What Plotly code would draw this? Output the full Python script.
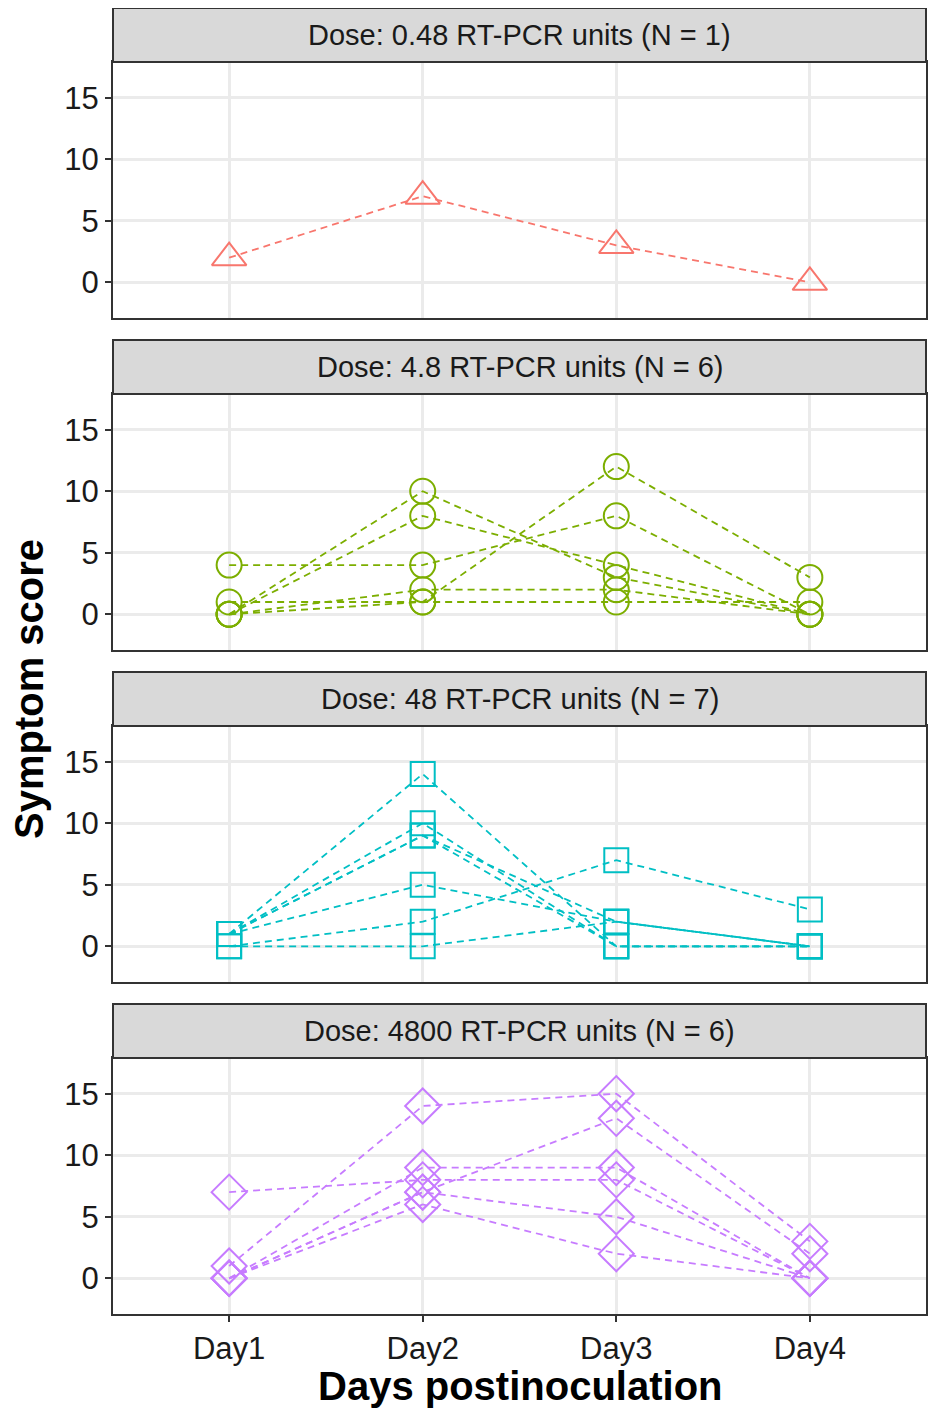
import plotly.graph_objects as go

days = ["Day1", "Day2", "Day3", "Day4"]
day_pos = [1, 2, 3, 4]

panel_titles = [
    "Dose: 0.48 RT-PCR units (N = 1)",
    "Dose: 4.8 RT-PCR units (N = 6)",
    "Dose: 48 RT-PCR units (N = 7)",
    "Dose: 4800 RT-PCR units (N = 6)",
]

dose_048 = [
    [2, 7, 3, 0],
]
dose_48_tenth = [
    [4, 4, 8, 0],
    [0, 10, 3, 0],
    [0, 8, 4, 0],
    [0, 1, 12, 3],
    [0, 2, 2, 0],
    [1, 1, 1, 1],
]
dose_48 = [
    [1, 14, 0, 0],
    [1, 10, 0, 0],
    [1, 9, 2, 0],
    [1, 9, 0, 0],
    [1, 5, 2, 0],
    [0, 2, 7, 3],
    [0, 0, 2, 0],
]
dose_4800 = [
    [7, 8, 8, 0],
    [1, 14, 15, 3],
    [0, 9, 9, 0],
    [0, 7, 13, 2],
    [0, 7, 5, 0],
    [0, 6, 2, 0],
]

y_ticks = [0, 5, 10, 15]

panels = [dose_048, dose_48_tenth, dose_48, dose_4800]
colors = ["#F8766D", "#7CAE00", "#00BFC4", "#C77CFF"]
symbols = ["triangle-up-open", "circle-open", "square-open", "diamond-open"]
msizes = [30, 25, 24, 27]

# page has an 8px body margin; compensate
OFF = 8
W, H = 936 - 2 * OFF, 1412 - OFF
plot_px = [(62, 318), (394, 650), (726, 982), (1058, 1314)]
strip_px = [(8, 62), (340, 394), (672, 726), (1004, 1058)]
x0_px, x1_px = 113, 926


def px_x(v):
    return (v - OFF) / W


def px_y(v):
    return 1 - (v - OFF) / H


font_family = "Liberation Sans, Arial, sans-serif"

fig = go.Figure()
layout = dict(
    width=W, height=H,
    margin=dict(l=0, r=0, t=0, b=0),
    paper_bgcolor="white",
    plot_bgcolor="white",
    showlegend=False,
    font=dict(family=font_family, color="#1a1a1a"),
)

shapes = []
annotations = []
for i, (data, col, sym, ms) in enumerate(zip(panels, colors, symbols, msizes)):
    xa = "x" if i == 0 else f"x{i+1}"
    ya = "y" if i == 0 else f"y{i+1}"
    for subj in data:
        fig.add_trace(go.Scatter(
            x=day_pos, y=subj, xaxis=xa, yaxis=ya,
            mode="lines+markers",
            line=dict(color=col, width=1.8, dash="7px,5px"),
            marker=dict(symbol=sym, size=ms, color=col, line=dict(color=col, width=2)),
            hoverinfo="skip",
        ))
    top, bot = plot_px[i]
    dom_y = [px_y(bot), px_y(top)]
    xkey = "xaxis" if i == 0 else f"xaxis{i+1}"
    ykey = "yaxis" if i == 0 else f"yaxis{i+1}"
    last = (i == 3)
    layout[xkey] = dict(
        domain=[px_x(x0_px), px_x(x1_px)],
        anchor=ya,
        range=[0.4, 4.6],
        tickvals=day_pos,
        ticktext=days,
        showticklabels=last,
        ticks="outside" if last else "",
        ticklen=6, tickwidth=2, tickcolor="#333333",
        showgrid=True, gridcolor="#EBEBEB", gridwidth=2.5,
        showline=True, linecolor="#333333", linewidth=2, mirror=True,
        zeroline=False,
        tickfont=dict(size=31, color="#1a1a1a", family=font_family),
    )
    layout[ykey] = dict(
        domain=dom_y,
        anchor=xa,
        range=[-2.9, 17.9],
        tickvals=y_ticks,
        ticks="outside",
        ticklen=6, tickwidth=2, tickcolor="#333333",
        showgrid=True, gridcolor="#EBEBEB", gridwidth=2.5,
        showline=True, linecolor="#333333", linewidth=2, mirror=True,
        zeroline=False,
        tickfont=dict(size=31, color="#1a1a1a", family=font_family),
    )
    st, sb = strip_px[i]
    shapes.append(dict(
        type="rect", xref="paper", yref="paper",
        x0=px_x(x0_px), x1=px_x(x1_px), y0=px_y(sb), y1=px_y(st),
        fillcolor="#D9D9D9", line=dict(color="#333333", width=2), layer="above",
    ))
    annotations.append(dict(
        text=panel_titles[i], xref="paper", yref="paper",
        x=px_x((x0_px + x1_px) / 2), y=px_y((st + sb) / 2),
        xanchor="center", yanchor="middle", showarrow=False,
        font=dict(size=29, color="#1a1a1a", family=font_family),
    ))

annotations.append(dict(
    text="<b>Symptom score</b>", xref="paper", yref="paper",
    x=px_x(29), y=px_y(689), xanchor="center", yanchor="middle",
    textangle=-90, showarrow=False,
    font=dict(size=40, color="black", family=font_family),
))
annotations.append(dict(
    text="<b>Days postinoculation</b>", xref="paper", yref="paper",
    x=px_x(520), y=px_y(1386), xanchor="center", yanchor="middle",
    showarrow=False,
    font=dict(size=40, color="black", family=font_family),
))

layout["shapes"] = shapes
layout["annotations"] = annotations
fig.update_layout(**layout)
fig.write_html("out.html")
